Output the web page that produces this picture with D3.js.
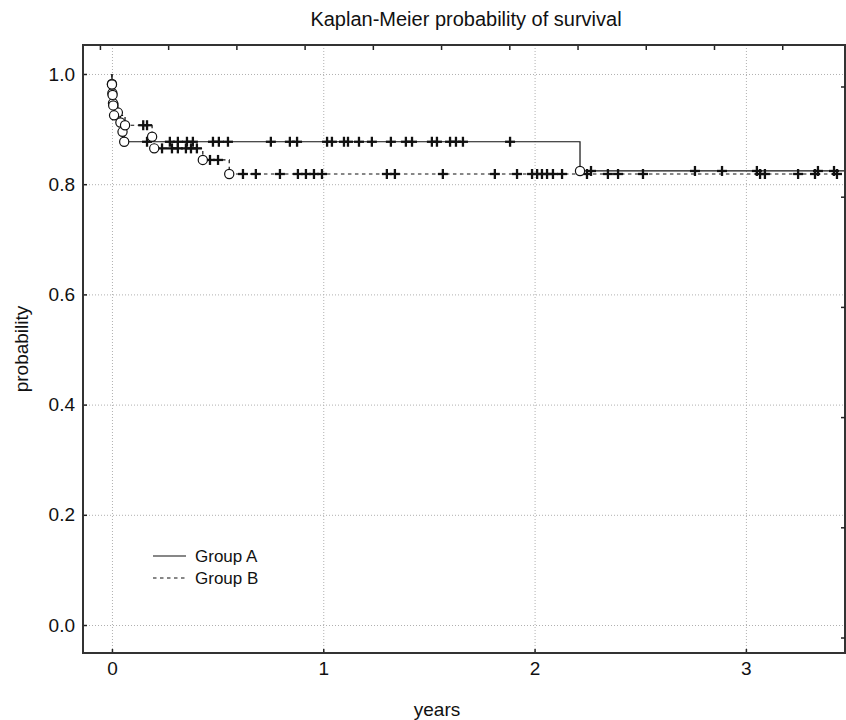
<!DOCTYPE html>
<html><head><meta charset="utf-8">
<script src="https://cdn.jsdelivr.net/npm/d3@7"></script>
<style>body{margin:0;background:#fff}svg{display:block}text{font-family:"Liberation Sans",Arial,sans-serif;fill:#111}</style>
</head><body>
<script>
// ---- data ----
const title = "Kaplan-Meier probability of survival";
const xLabel = "years";
const yLabel = "probability";
const xTicks = [0, 1, 2, 3];
const yTicks = [0.0, 0.2, 0.4, 0.6, 0.8, 1.0];
const topTicks = [0,1,2,3,4,5,6,7,8,9,10];
const studyEnd = 3.47;

const groupA_eventTimes = [0.000, 0.002, 0.005, 0.028, 0.040, 0.050, 0.058, 2.215];
const groupA_eventSurv  = [0.982, 0.965, 0.947, 0.930, 0.912, 0.895, 0.877, 0.824];
const groupA_censor = [0.166, 0.274, 0.312, 0.355, 0.383, 0.478, 0.506, 0.549, 0.752, 0.842, 0.876,
  1.018, 1.041, 1.098, 1.117, 1.169, 1.230, 1.320, 1.391, 1.420, 1.514, 1.538, 1.600, 1.628, 1.661, 1.884,
  2.267, 2.759, 2.887, 3.052, 3.341, 3.417];

const groupB_eventTimes = [0.000, 0.003, 0.006, 0.010, 0.062, 0.190, 0.200, 0.430, 0.555];
const groupB_eventSurv  = [0.981, 0.962, 0.943, 0.925, 0.907, 0.886, 0.865, 0.844, 0.8185];
const groupB_censor = [0.148, 0.166, 0.237, 0.284, 0.312, 0.350, 0.374, 0.402, 0.464, 0.502,
  0.620, 0.681, 0.795, 0.880, 0.918, 0.956, 0.994, 1.301, 1.339, 1.566, 1.812, 1.917, 1.988, 2.012,
  2.035, 2.059, 2.087, 2.130, 2.248, 2.347, 2.395, 2.513, 3.067, 3.090, 3.247, 3.327, 3.431];

const legendNames = ["Group A", "Group B"];

// ---- layout ----
const W = 846, H = 720;
const L = 83, R = 845, T = 45, B = 653;
const x = d3.scaleLinear().domain([-0.137, 3.469]).range([L, R]);
const y = d3.scaleLinear().domain([-0.0508, 1.0526]).range([B, T]);
const xTop = d3.scaleLinear().domain([-0.248, 10.92]).range([L, R]);

const svg = d3.select("body").append("svg").attr("width", W).attr("height", H);

svg.append("clipPath").attr("id","clip").append("rect")
  .attr("x", L).attr("y", T).attr("width", R-L).attr("height", B-T);

// grid
const grid = svg.append("g").attr("stroke","#b0b0b0").attr("stroke-width",1).attr("stroke-dasharray","1,2");
grid.selectAll(".gx").data(xTicks).join("line")
  .attr("x1", d=>x(d)+0.5).attr("x2", d=>x(d)+0.5).attr("y1", T).attr("y2", B);
grid.selectAll(".gy").data(yTicks).join("line")
  .attr("y1", d=>y(d)+0.5).attr("y2", d=>y(d)+0.5).attr("x1", L).attr("x2", R);

// axes (inward ticks, labels)
const axB = svg.append("g").attr("transform",`translate(0,${B})`)
  .call(d3.axisBottom(x).tickValues(xTicks).tickFormat(d3.format("d")).tickSize(-4).tickPadding(9));
const axL = svg.append("g").attr("transform",`translate(${L},0)`)
  .call(d3.axisLeft(y).tickValues(yTicks).tickFormat(d3.format(".1f")).tickSize(-4).tickPadding(8));
const axT = svg.append("g").attr("transform",`translate(0,${T})`)
  .call(d3.axisTop(xTop).tickValues(topTicks).tickFormat("").tickSize(-5));
[axB, axL, axT].forEach(g => {
  g.select(".domain").remove();
  g.selectAll(".tick line").attr("stroke","#222").attr("stroke-width",1.5);
  g.selectAll(".tick text").style("font-size","19px").attr("fill","#111");
});

// curves
function stepPoints(times, surv) {
  const pts = [[0, 1.0]];
  times.forEach((t, i) => {
    pts.push([t, pts[pts.length-1][1]]);
    pts.push([t, surv[i]]);
  });
  pts.push([studyEnd, surv[surv.length-1]]);
  return pts;
}
function survAt(times, surv, t) {
  let s = 1.0;
  times.forEach((tt, i) => { if (tt <= t) s = surv[i]; });
  return s;
}
const line = d3.line().x(d=>x(d[0])).y(d=>y(d[1]));
const plot = svg.append("g").attr("clip-path","url(#clip)");

const groups = [
  {times: groupA_eventTimes, surv: groupA_eventSurv, cens: groupA_censor, dash: null},
  {times: groupB_eventTimes, surv: groupB_eventSurv, cens: groupB_censor, dash: "3.5,3.5"}
];
groups.forEach(g => {
  plot.append("path").datum(stepPoints(g.times, g.surv)).attr("d", line)
    .attr("fill","none").attr("stroke","#111").attr("stroke-width",1.2)
    .attr("stroke-dasharray", g.dash);
});
groups.forEach(g => {
  const cg = plot.append("g").attr("stroke","#111").attr("stroke-width",2.3);
  g.cens.forEach(t => {
    const cx = x(t), cy = y(survAt(g.times, g.surv, t));
    cg.append("line").attr("x1",cx-5).attr("x2",cx+5).attr("y1",cy).attr("y2",cy);
    cg.append("line").attr("x1",cx).attr("x2",cx).attr("y1",cy-5).attr("y2",cy+5);
  });
});
groups.forEach(g => {
  plot.append("g").selectAll("circle").data(g.times.map((t,i)=>[t,g.surv[i]])).join("circle")
    .attr("cx", d=>x(d[0])).attr("cy", d=>y(d[1])).attr("r", 4.6)
    .attr("fill","#fff").attr("stroke","#111").attr("stroke-width",1.2);
});

// frame
svg.append("rect").attr("x",L).attr("y",T).attr("width",R-L).attr("height",B-T)
  .attr("fill","none").attr("stroke","#333").attr("stroke-width",2);

// right-side inward ticks
svg.append("g").selectAll("line").data(yTicks).join("line")
  .attr("x1", R-4).attr("x2", R).attr("y1", d=>y(d)+13).attr("y2", d=>y(d)+13)
  .attr("stroke","#222").attr("stroke-width",1.5);

// title and axis labels
svg.append("text").attr("x", 466).attr("y", 26).attr("text-anchor","middle")
  .style("font-size","20px").text(title);
svg.append("text").attr("x", 437).attr("y", 716).attr("text-anchor","middle")
  .style("font-size","19px").text(xLabel);
svg.append("text").attr("transform","translate(28,349) rotate(-90)").attr("text-anchor","middle")
  .style("font-size","19px").text(yLabel);

// legend
const lg = svg.append("g");
legendNames.forEach((n, i) => {
  const ly = 556 + i*22;
  lg.append("line").attr("x1",153).attr("x2",186).attr("y1",ly).attr("y2",ly)
    .attr("stroke","#111").attr("stroke-width",1.2).attr("stroke-dasharray", groups[i].dash);
  lg.append("text").attr("x",195).attr("y",ly+6).style("font-size","17px").text(n);
});
</script>
</body></html>
